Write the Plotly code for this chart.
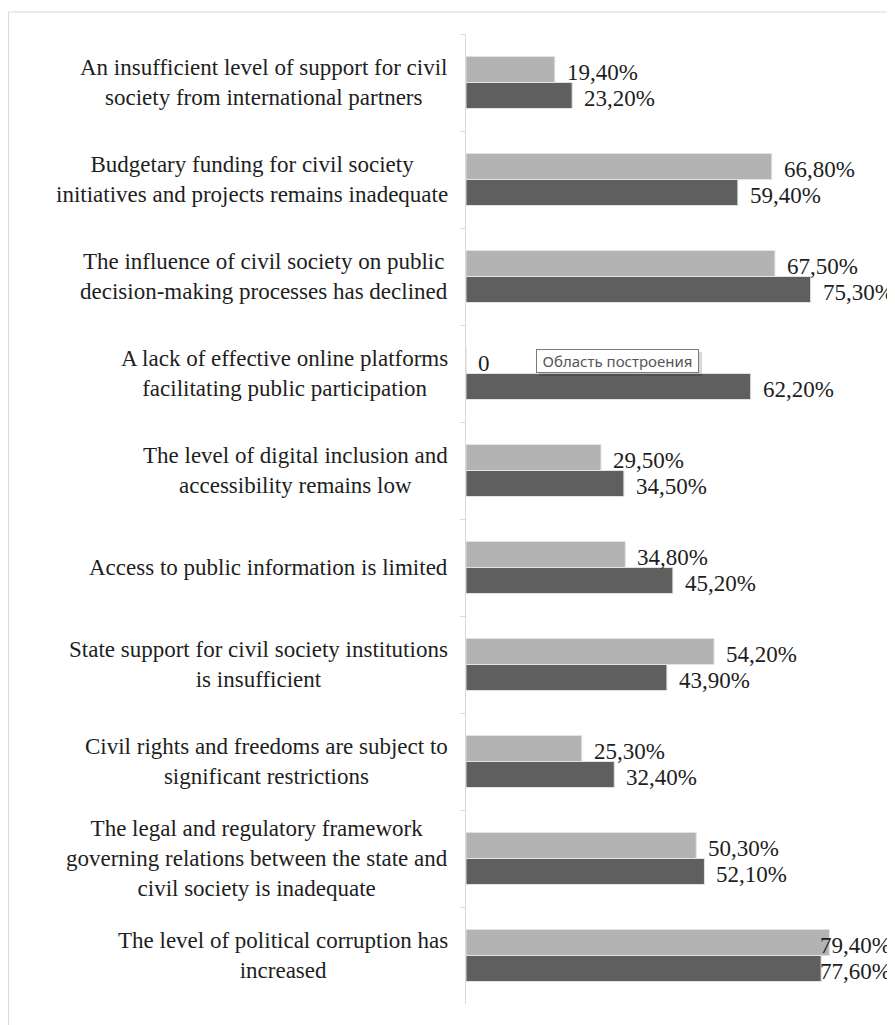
import plotly.graph_objects as go

categories = [
    "An insufficient level of support for civil<br>society from international partners",
    "Budgetary funding for civil society<br>initiatives and projects remains inadequate",
    "The influence of civil society on public<br>decision-making processes has declined",
    "A lack of effective online platforms<br>facilitating public participation",
    "The level of digital inclusion and<br>accessibility remains low",
    "Access to public information is limited",
    "State support for civil society institutions<br>is insufficient",
    "Civil rights and freedoms are subject to<br>significant restrictions",
    "The legal and regulatory framework<br>governing relations between the state and<br>civil society is inadequate",
    "The level of political corruption has<br>increased",
]
series_light = [19.4, 66.8, 67.5, 0.0, 29.5, 34.8, 54.2, 25.3, 50.3, 79.4]
series_dark = [23.2, 59.4, 75.3, 62.2, 34.5, 45.2, 43.9, 32.4, 52.1, 77.6]

LIGHT = "#b3b3b3"
DARK = "#5f5f5f"
TEXT = "#1e1e1e"
FONT = "Liberation Serif"
FS = 23

# page body has an 8px margin, so the figure is offset by 8px
W, H = 887, 1017
L, R, T, B = 458, 2, 26, 21
PW, PH = W - L - R, H - T - B
XMAX = 93.3
PXU = PW / XMAX


def px_x(p):
    return (p - L) / PW


def px_y(p):
    return (H - B - p) / PH


fig = go.Figure()
fig.add_trace(go.Bar(y=categories, x=series_light, orientation="h",
                     marker=dict(color=LIGHT, line=dict(color="#e2e2e2", width=1)),
                     hoverinfo="skip"))
fig.add_trace(go.Bar(y=categories, x=series_dark, orientation="h",
                     marker=dict(color=DARK, line=dict(color="#e2e2e2", width=1)),
                     hoverinfo="skip"))


def fmt(v):
    if v == 0:
        return "0"
    return ("%.2f" % v).replace(".", ",") + "%"


annotations = []
OFF = 10
for vals, ys in ((series_light, 10), (series_dark, -16)):
    for cat, v in zip(categories, vals):
        txt = fmt(v)
        est_w = 3.1 * FS if v else 0.5 * FS
        if v * PXU + OFF + est_w > PW:
            annotations.append(dict(x=1, xref="paper", xanchor="right", y=cat, yref="y",
                                    yshift=ys, text=txt, showarrow=False,
                                    font=dict(family=FONT, size=FS, color=TEXT)))
        else:
            annotations.append(dict(x=v, xref="x", xanchor="left", xshift=OFF, y=cat, yref="y",
                                    yshift=ys, text=txt, showarrow=False,
                                    font=dict(family=FONT, size=FS, color=TEXT)))

for cat in categories:
    annotations.append(dict(x=0, xref="paper", xanchor="right", xshift=-16, y=cat, yref="y",
                            text=cat, align="center", showarrow=False,
                            font=dict(family=FONT, size=FS, color=TEXT)))

# Excel UI tooltip artifact
annotations.append(dict(x=px_x(528), xref="paper", xanchor="left",
                        y=px_y(341), yref="paper", yanchor="top",
                        text="Область построения", showarrow=False,
                        width=157, height=18, align="center",
                        font=dict(family="Noto Sans", size=15, color="#555555"),
                        bgcolor="white", bordercolor="#7a7a7a", borderwidth=1, borderpad=2))

shapes = [
    dict(type="rect", xref="paper", yref="paper",
         x0=px_x(0.5), x1=px_x(W + 10),
         y0=px_y(H + 10), y1=px_y(4),
         line=dict(color="#d9d9d9", width=1), fillcolor="rgba(0,0,0,0)", layer="below"),
    dict(type="rect", xref="paper", yref="paper",
         x0=px_x(531), x1=px_x(694),
         y0=px_y(368), y1=px_y(344),
         line=dict(width=0), fillcolor="rgba(0,0,0,0.15)", layer="above"),
]

fig.update_layout(
    width=W, height=H,
    margin=dict(l=L, r=R, t=T, b=B, pad=0),
    paper_bgcolor="white", plot_bgcolor="white",
    barmode="group", bargap=0.464, bargroupgap=0,
    showlegend=False,
    annotations=annotations,
    shapes=shapes,
    xaxis=dict(range=[0, XMAX], visible=False, showgrid=False, zeroline=False),
    yaxis=dict(autorange="reversed", showticklabels=False, showgrid=False,
               showline=True, linecolor="#d9d9d9", linewidth=1,
               ticks="outside", ticklen=5, tickcolor="#d9d9d9", tickson="boundaries"),
)

fig.write_html("out.html")
